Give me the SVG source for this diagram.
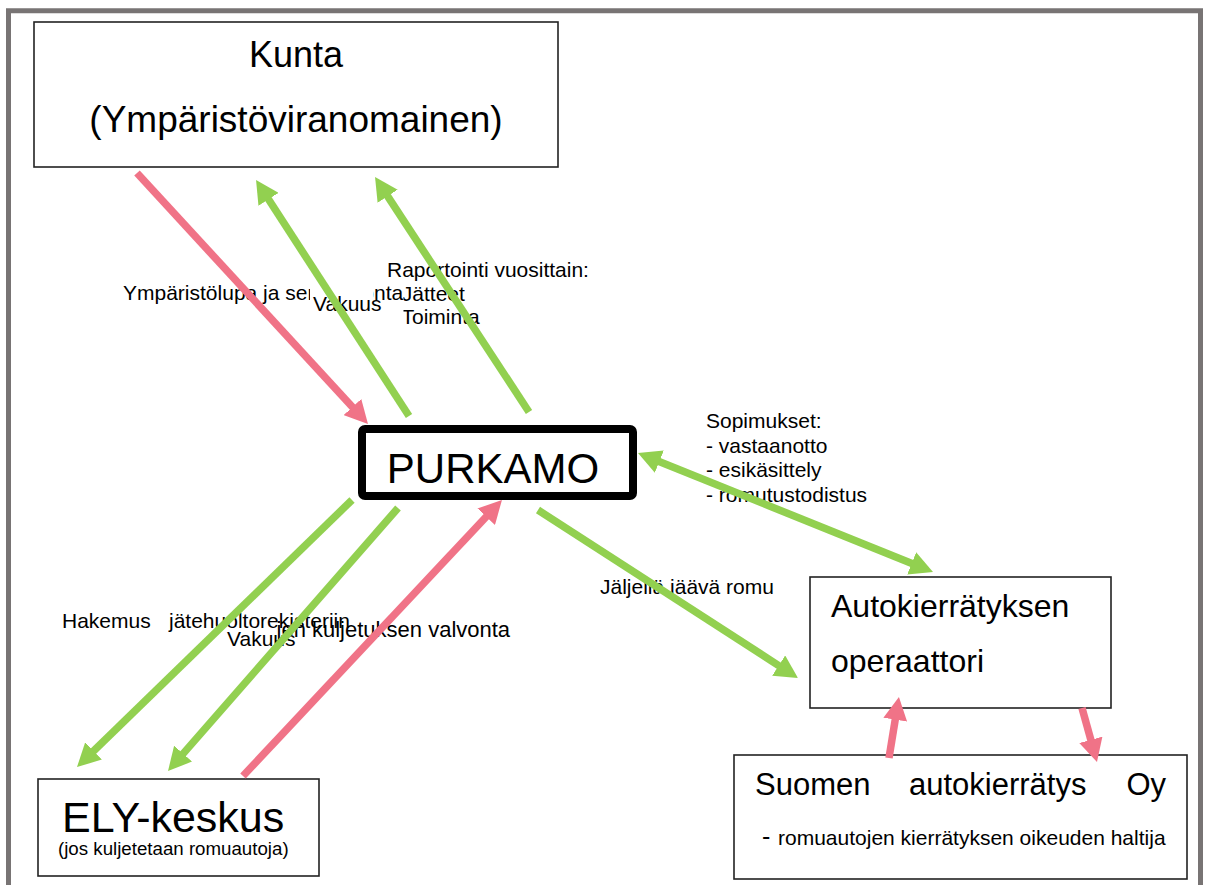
<svg xmlns="http://www.w3.org/2000/svg" width="1208" height="885" viewBox="0 0 1208 885">
  <style>
    .t { font-family: "Liberation Sans", Arial, sans-serif; fill: #000; }
    .lbl { font-size: 21px; }
    .box { fill: #fff; stroke: #222; stroke-width: 1.6; }
    .occ { fill: #fff; stroke: none; }
    .pk { stroke: #F07387; stroke-width: 7.5; fill: none; }
    .gr { stroke: #92D050; stroke-width: 7.5; fill: none; }
  </style>
  <defs>
    <marker id="ap" markerUnits="userSpaceOnUse" markerWidth="24" markerHeight="24" refX="1" refY="12" orient="auto">
      <path d="M0,0 L23,12 L0,24 z" fill="#F07387"/>
    </marker>
    <marker id="ag" markerUnits="userSpaceOnUse" markerWidth="24" markerHeight="24" refX="1" refY="12" orient="auto">
      <path d="M0,0 L23,12 L0,24 z" fill="#92D050"/>
    </marker>
    <marker id="ags" markerUnits="userSpaceOnUse" markerWidth="24" markerHeight="24" refX="1" refY="12" orient="auto-start-reverse">
      <path d="M0,0 L23,12 L0,24 z" fill="#92D050"/>
    </marker>
  </defs>

  <rect x="0" y="0" width="1208" height="885" fill="#fff"/>
  <path d="M8.5 890 V10.8 H1200.5 V890" fill="none" stroke="#787474" stroke-width="5"/>

  <g id="kunta">
    <rect class="box" x="34" y="22" width="524" height="145"/>
    <text class="t" x="296" y="67" font-size="36" text-anchor="middle">Kunta</text>
    <text class="t" x="296" y="132" font-size="37" text-anchor="middle">(Ympäristöviranomainen)</text>
  </g>

  <g id="purkamo">
    <rect x="362" y="429" width="271" height="67" rx="3" fill="#fff" stroke="#000" stroke-width="8"/>
    <text class="t" x="493" y="483" font-size="42" text-anchor="middle">PURKAMO</text>
  </g>

  <g id="operaattori">
    <rect class="box" x="810" y="577" width="301" height="131"/>
    <text class="t" x="831" y="617" font-size="32">Autokierrätyksen</text>
    <text class="t" x="831" y="672" font-size="32">operaattori</text>
  </g>

  <g id="suomen-autokierratys">
    <rect class="box" x="734" y="755" width="453" height="124" stroke="#444"/>
    <text class="t" x="755" y="795" font-size="31">Suomen</text>
    <text class="t" x="909" y="795" font-size="31">autokierrätys</text>
    <text class="t" x="1166" y="795" font-size="31" text-anchor="end">Oy</text>
    <text class="t" x="762" y="845" font-size="25">-</text>
    <text class="t" x="778" y="845" font-size="21">romuautojen kierrätyksen oikeuden haltija</text>
  </g>

  <g id="ely-keskus">
    <rect class="box" x="38" y="779" width="281" height="97" stroke="#333"/>
    <text class="t" x="62" y="832" font-size="43">ELY-keskus</text>
    <text class="t" x="58" y="855" font-size="18.7">(jos kuljetetaan romuautoja)</text>
  </g>

  <g id="labels">
    <text class="t lbl" x="387" y="277">Raportointi vuosittain:</text>
    <text class="t lbl" x="389" y="300.5">- Jätteet</text>
    <text class="t lbl" x="389" y="324">- Toiminta</text>
    <rect class="occ" x="118" y="281" width="285.5" height="39"/>
    <text class="t lbl" x="123" y="300">Ympäristölupa ja sen valvonta</text>
    <rect class="occ" x="310" y="284" width="63" height="33"/>
    <text class="t lbl" x="313" y="311">Vakuus</text>

    <text class="t lbl" x="706" y="428">Sopimukset:</text>
    <text class="t lbl" x="706" y="452.5">- vastaanotto</text>
    <text class="t lbl" x="706" y="477">- esikäsittely</text>
    <text class="t lbl" x="706" y="501.5">- romutustodistus</text>

    <text class="t lbl" x="600" y="594">Jäljellä jäävä romu</text>

    <text class="t" x="175" y="637" font-size="22">Romuautojen kuljetuksen valvonta</text>
    <rect class="occ" x="171" y="619" width="105" height="31"/>
    <text class="t lbl" x="227" y="646">Vakuus</text>
    <text class="t lbl" x="62" y="628">Hakemus</text>
    <text class="t lbl" x="169" y="628">jätehuoltorekisteriin</text>
  </g>

  <g id="connectors">
    <line class="pk" x1="137" y1="173" x2="353.1" y2="407.8" marker-end="url(#ap)"/>
    <line class="gr" x1="409" y1="416" x2="268" y2="198.5" marker-end="url(#ag)"/>
    <line class="gr" x1="529" y1="412" x2="387.1" y2="195.4" marker-end="url(#ag)"/>
    <line class="gr" x1="658.4" y1="461.2" x2="912.6" y2="563.8" marker-start="url(#ags)" marker-end="url(#ag)"/>
    <line class="gr" x1="538" y1="510" x2="779.5" y2="666.1" marker-end="url(#ag)"/>
    <line class="gr" x1="352" y1="500" x2="92.8" y2="751.7" marker-end="url(#ag)"/>
    <line class="gr" x1="398" y1="508" x2="182.5" y2="754.4" marker-end="url(#ag)"/>
    <line class="pk" x1="243" y1="776" x2="486.9" y2="516" marker-end="url(#ap)"/>
    <line class="pk" x1="889" y1="758" x2="895.4" y2="718.7" marker-end="url(#ap)"/>
    <line class="pk" x1="1082" y1="708" x2="1091.1" y2="740.8" marker-end="url(#ap)"/>
  </g>
</svg>
